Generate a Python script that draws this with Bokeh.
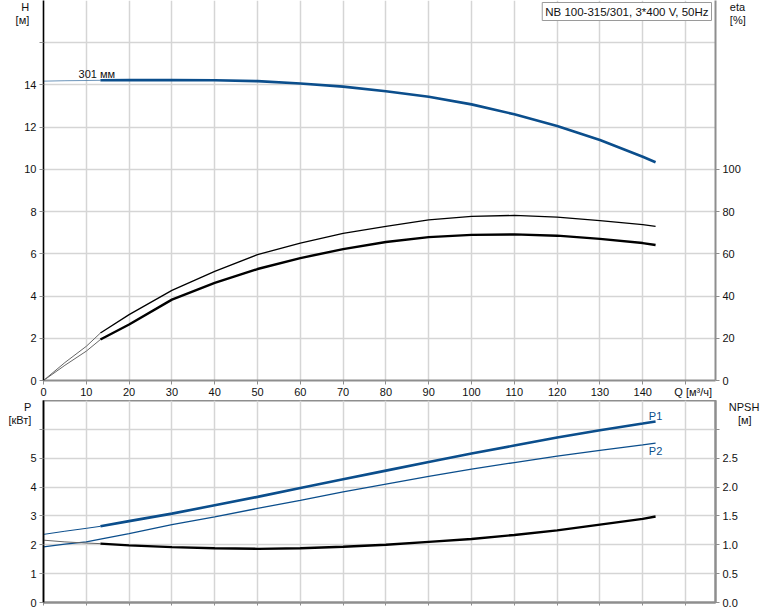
from bokeh.plotting import figure
from bokeh.models import Range1d, LinearAxis, FixedTicker, Label, PrintfTickFormatter
from bokeh.layouts import column
from bokeh.embed import file_html
from bokeh.resources import INLINE

# ---------------- data ----------------
q = [0, 5, 10, 13.3, 20, 30, 40, 50, 60, 70, 80, 90, 100, 110, 120, 130, 140, 143]
head_301 = [14.18, 14.20, 14.21, 14.22, 14.23, 14.23, 14.22, 14.18, 14.07, 13.92,
            13.70, 13.44, 13.08, 12.61, 12.06, 11.39, 10.60, 10.34]
eta_pump = [0, 8.5, 16.2, 22.5, 31.2, 42.7, 51.7, 59.6, 65.1, 69.7,
            73.0, 76.1, 77.7, 78.2, 77.4, 75.7, 73.8, 73.0]
eta_total = [0, 7.2, 13.9, 19.4, 26.5, 38.3, 46.2, 52.8, 58.0, 62.2,
             65.6, 67.9, 69.0, 69.2, 68.6, 67.1, 65.1, 64.2]
p1_kw = [2.36, 2.47, 2.57, 2.64, 2.82, 3.08, 3.37, 3.66, 3.97, 4.27,
         4.57, 4.87, 5.16, 5.44, 5.72, 5.97, 6.20, 6.27]
p2_kw = [1.93, 2.02, 2.10, 2.20, 2.39, 2.70, 2.97, 3.26, 3.54, 3.83,
         4.10, 4.37, 4.62, 4.85, 5.07, 5.27, 5.46, 5.52]
npsh = [1.08, 1.05, 1.03, 1.02, 0.99, 0.96, 0.94, 0.93, 0.94, 0.965,
        1.00, 1.05, 1.10, 1.17, 1.25, 1.35, 1.45, 1.49]

x_ticks = list(range(0, 160, 10))
h_ticks = [0, 2, 4, 6, 8, 10, 12, 14]
h_extra = [16]
eta_ticks = [0, 20, 40, 60, 80, 100]
p_ticks = [0, 1, 2, 3, 4, 5]
p_extra = [6]
npsh_ticks = [0, 0.5, 1.0, 1.5, 2.0, 2.5]
npsh_extra = [3.0]

NB = "\u00a0"
TH = "\u2009"
title_text = "NB 100-315/301, 3*400 V, 50Hz"
curve_label = "301 мм"
q_label = NB * 5 + "Q [м³/ч]"
h_title = "\n\n" + NB + TH + NB + "H\n" + NB + TH + "[м]"
eta_title = "\n\neta\n[%]"
p_title = "\n\n" + NB * 3 + "P\n" + NB + "[кВт]"
npsh_title = "\n\nNPSH\n" + NB * 3 + "[м]"

SPLIT = 3  # index where the operating (thick) range starts

BLUE = "#0b4e8c"
GRID = "#d5d5d5"
AXGREY = "#8e8e8e"
FONT = "Liberation Sans"
FS = "11px"

X_MAX = 157
H_MAX = 18.0
P_MAX = 7.0


def style_axis(ax, line_color):
    ax.axis_line_color = line_color
    ax.axis_line_width = 1.6
    ax.major_tick_line_color = AXGREY
    ax.major_tick_in = 0
    ax.major_tick_out = 4
    ax.minor_tick_line_color = AXGREY
    ax.minor_tick_in = 0
    ax.minor_tick_out = 4
    ax.major_label_text_font = FONT
    ax.major_label_text_font_size = FS
    ax.major_label_text_color = "#111111"
    ax.major_label_standoff = 3


def title_axis(ax, text, standoff):
    ax.axis_label = text
    ax.axis_label_text_font = FONT
    ax.axis_label_text_font_size = FS
    ax.axis_label_text_font_style = "normal"
    ax.axis_label_text_color = "#111111"
    ax.axis_label_text_line_height = 1.1
    ax.axis_label_standoff = standoff
    ax.axis_label_orientation = "horizontal"
    ax.axis_label_align = "end"


def text_label(fig, x, y, txt, color="#111111", size=FS, **kw):
    lab = Label(x=x, y=y, text=txt, text_font=FONT, text_font_size=size,
                text_color=color, **kw)
    fig.add_layout(lab)
    return lab


# ---------------- top chart (H / eta) ----------------
p1 = figure(width=774, height=400, x_range=Range1d(0, X_MAX), y_range=Range1d(0, H_MAX),
            output_backend="svg", toolbar_location=None, tools="",
            min_border_left=43, min_border_right=59, min_border_top=0, min_border_bottom=19)
p1.extra_y_ranges = {"eta": Range1d(0, H_MAX * 10)}
p1.outline_line_color = None

p1.xaxis.ticker = FixedTicker(ticks=x_ticks)
p1.xaxis.major_label_overrides = {150: q_label}
style_axis(p1.xaxis[0], AXGREY)
p1.xaxis.axis_line_width = 2
p1.xaxis.major_label_standoff = 1

p1.yaxis.ticker = FixedTicker(ticks=h_ticks, minor_ticks=h_extra)
style_axis(p1.yaxis[0], "#000000")
title_axis(p1.yaxis[0], h_title, -8)

eta_axis = LinearAxis(y_range_name="eta", ticker=FixedTicker(ticks=eta_ticks))
style_axis(eta_axis, AXGREY)
eta_axis.axis_line_width = 2
title_axis(eta_axis, eta_title, -14)
p1.add_layout(eta_axis, "right")

p1.xgrid.ticker = FixedTicker(ticks=x_ticks)
p1.ygrid.ticker = FixedTicker(ticks=h_ticks + h_extra)
for g in (p1.xgrid[0], p1.ygrid[0]):
    g.grid_line_color = GRID
    g.grid_line_width = 1.5

# curves
p1.line(q[:SPLIT + 1], head_301[:SPLIT + 1], line_color=BLUE, line_width=1, line_alpha=0.6)
p1.line(q[SPLIT:], head_301[SPLIT:], line_color=BLUE, line_width=2.6)
p1.line(q[:SPLIT + 1], eta_pump[:SPLIT + 1], y_range_name="eta", line_color="#666666", line_width=1)
p1.line(q[SPLIT:], eta_pump[SPLIT:], y_range_name="eta", line_color="#000000", line_width=1.3)
p1.line(q[:SPLIT + 1], eta_total[:SPLIT + 1], y_range_name="eta", line_color="#666666", line_width=1)
p1.line(q[SPLIT:], eta_total[SPLIT:], y_range_name="eta", line_color="#000000", line_width=2.4)

text_label(p1, 8.2, head_301[1], curve_label, text_baseline="bottom", text_align="left", y_offset=1)
text_label(p1, X_MAX, H_MAX, title_text, size="11.5px", text_baseline="top", text_align="right",
           x_offset=-4, y_offset=-2, border_line_color="#9a9a9a", border_line_width=1,
           background_fill_color="white", padding=3)

# ---------------- bottom chart (P / NPSH) ----------------
p2 = figure(width=774, height=211, x_range=Range1d(0, X_MAX), y_range=Range1d(0, P_MAX),
            output_backend="svg", toolbar_location=None, tools="",
            min_border_left=43, min_border_right=59, min_border_top=0, min_border_bottom=9)
p2.extra_y_ranges = {"npsh": Range1d(0, P_MAX / 2)}
p2.outline_line_color = AXGREY
p2.outline_line_width = 2

p2.xaxis.ticker = FixedTicker(ticks=[], minor_ticks=x_ticks)
style_axis(p2.xaxis[0], AXGREY)
p2.xaxis.axis_line_width = 2
p2.xaxis.minor_tick_out = 3

p2.yaxis.ticker = FixedTicker(ticks=p_ticks, minor_ticks=p_extra)
style_axis(p2.yaxis[0], "#000000")
title_axis(p2.yaxis[0], p_title, -4)

npsh_axis = LinearAxis(y_range_name="npsh", ticker=FixedTicker(ticks=npsh_ticks, minor_ticks=npsh_extra),
                       formatter=PrintfTickFormatter(format="%.1f"))
style_axis(npsh_axis, AXGREY)
npsh_axis.axis_line_width = 2
title_axis(npsh_axis, npsh_title, -12)
p2.add_layout(npsh_axis, "right")

p2.xgrid.ticker = FixedTicker(ticks=x_ticks)
p2.ygrid.ticker = FixedTicker(ticks=p_ticks + p_extra)
for g in (p2.xgrid[0], p2.ygrid[0]):
    g.grid_line_color = GRID
    g.grid_line_width = 1.5

p2.line(q[:SPLIT + 1], p1_kw[:SPLIT + 1], line_color=BLUE, line_width=1)
p2.line(q[SPLIT:], p1_kw[SPLIT:], line_color=BLUE, line_width=2.6)
p2.line(q, p2_kw, line_color=BLUE, line_width=1.3)
p2.line(q[:SPLIT + 1], npsh[:SPLIT + 1], y_range_name="npsh", line_color="#666666", line_width=1)
p2.line(q[SPLIT:], npsh[SPLIT:], y_range_name="npsh", line_color="#000000", line_width=2.4)

text_label(p2, q[-1], p1_kw[-1], "P1", color=BLUE, text_baseline="bottom", text_align="center",
           x_offset=0, y_offset=0)
text_label(p2, q[-1], p2_kw[-1], "P2", color=BLUE, text_baseline="top", text_align="center",
           x_offset=0, y_offset=-2)

layout = column(p1, p2, spacing=0)
open("out.html", "w").write(file_html(layout, INLINE))
